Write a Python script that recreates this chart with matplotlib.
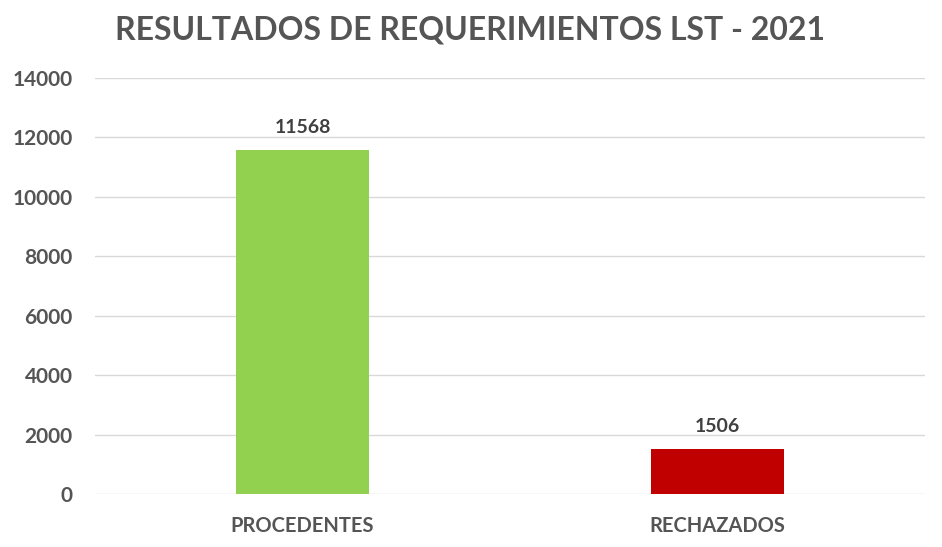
import matplotlib.pyplot as plt

categorias = ['PROCEDENTES', 'RECHAZADOS']
valores = [11568, 1506]
colores = ['#92D050', '#C00000']
yticks = [0, 2000, 4000, 6000, 8000, 10000, 12000, 14000]

plt.rcParams['font.family'] = ['Lato', 'DejaVu Sans']

fig = plt.figure(figsize=(9.42, 5.47), dpi=100)
ax = fig.add_axes([0.1008, 0.0969, 0.8812, 0.7605])

x = range(len(categorias))
barras = ax.bar(x, valores, width=0.32, color=colores, zorder=3)
ax.bar_label(barras, labels=[str(v) for v in valores], padding=10,
             fontsize=14, fontweight='bold', color='#404040')

ax.set_xlim(-0.5, 1.5)
ax.set_ylim(0, 14000)
ax.set_yticks(yticks)
ax.set_yticklabels([str(t) for t in yticks])
ax.set_xticks(list(x))
ax.set_xticklabels(categorias)
ax.yaxis.grid(True, color='#D9D9D9', linewidth=1, zorder=0)
for s in ax.spines.values():
    s.set_visible(False)
ax.tick_params(axis='both', length=0, colors='#555555')
ax.tick_params(axis='y', pad=16, labelsize=15)
ax.tick_params(axis='x', pad=16, labelsize=14.5)
for lbl in ax.get_xticklabels() + ax.get_yticklabels():
    lbl.set_fontweight('bold')

fig.text(0.499, 0.946, 'RESULTADOS DE REQUERIMIENTOS LST - 2021', ha='center', va='center',
         fontsize=23, fontweight='bold', color='#555555')

fig.savefig('out.png', dpi=100)
